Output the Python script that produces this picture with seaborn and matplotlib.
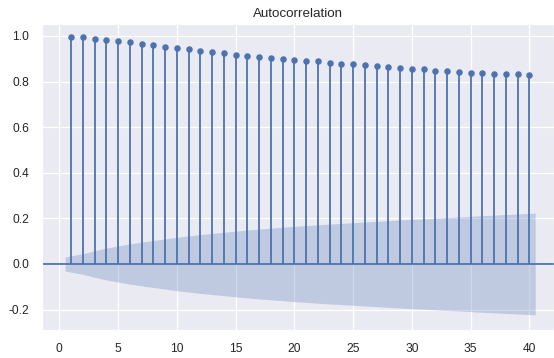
import numpy as np
import pandas as pd
import matplotlib
matplotlib.use("Agg")
import matplotlib.pyplot as plt
import seaborn as sns

# Sample autocorrelation for lags 1..40
lags = list(range(1, 41))
acf_values = [
    0.997, 0.994, 0.988, 0.982, 0.978, 0.972, 0.963, 0.959, 0.953, 0.947,
    0.943, 0.934, 0.928, 0.924, 0.918, 0.914, 0.909, 0.905, 0.899, 0.893,
    0.892, 0.889, 0.883, 0.879, 0.878, 0.874, 0.868, 0.863, 0.858, 0.857,
    0.854, 0.848, 0.847, 0.844, 0.839, 0.839, 0.835, 0.834, 0.834, 0.829,
]
# Half-width of the 95% confidence band at each lag
conf_halfwidth = [
    0.031, 0.045, 0.058, 0.070, 0.079, 0.088, 0.096, 0.103, 0.110, 0.117,
    0.123, 0.129, 0.134, 0.139, 0.144, 0.149, 0.153, 0.157, 0.161, 0.165,
    0.168, 0.172, 0.175, 0.178, 0.181, 0.184, 0.187, 0.190, 0.193, 0.196,
    0.198, 0.201, 0.204, 0.206, 0.209, 0.212, 0.214, 0.217, 0.219, 0.223,
]
x_ticks = [0, 5, 10, 15, 20, 25, 30, 35, 40]
y_ticks = [-0.2, 0.0, 0.2, 0.4, 0.6, 0.8, 1.0]

sns.set_theme(style="darkgrid", rc={"grid.linewidth": 1.2})
plt.rcParams["font.family"] = ["Liberation Sans", "DejaVu Sans"]

df = pd.DataFrame({"lag": lags, "acf": acf_values, "conf": conf_halfwidth})
color = sns.color_palette("deep")[0]

W, H, DPI = 554, 358, 72
fig = plt.figure(figsize=(W / DPI, H / DPI), dpi=DPI)
ax = fig.add_axes([42.3 / W, 28 / H, (W - 42.3) / W, 306 / H])

# confidence band, widened half a lag at each end
band_x = np.array(df["lag"], dtype=float)
band_x[0] -= 0.5
band_x[-1] += 0.5
ax.fill_between(band_x, -df["conf"], df["conf"], color=color, alpha=0.27,
                linewidth=0)

ax.axhline(0, color=color, linewidth=1.8, zorder=1)
ax.vlines(df["lag"], 0, df["acf"], color=color, linewidth=1.8, zorder=2)
sns.scatterplot(data=df, x="lag", y="acf", ax=ax, color=color, s=42,
                edgecolor=color, linewidth=0, zorder=3)

ax.set_xlim(-1.45, 42.1)
ax.set_ylim(-0.2895, 1.0526)
ax.set_xticks(x_ticks)
ax.set_yticks(y_ticks)
ax.set_yticklabels([f"{v:.1f}" for v in y_ticks])
ax.tick_params(labelsize=12, pad=7)
ax.set_xlabel("")
ax.set_ylabel("")
ax.set_title("Autocorrelation", fontsize=13.4, pad=7)

fig.savefig("out.png", dpi=DPI)
